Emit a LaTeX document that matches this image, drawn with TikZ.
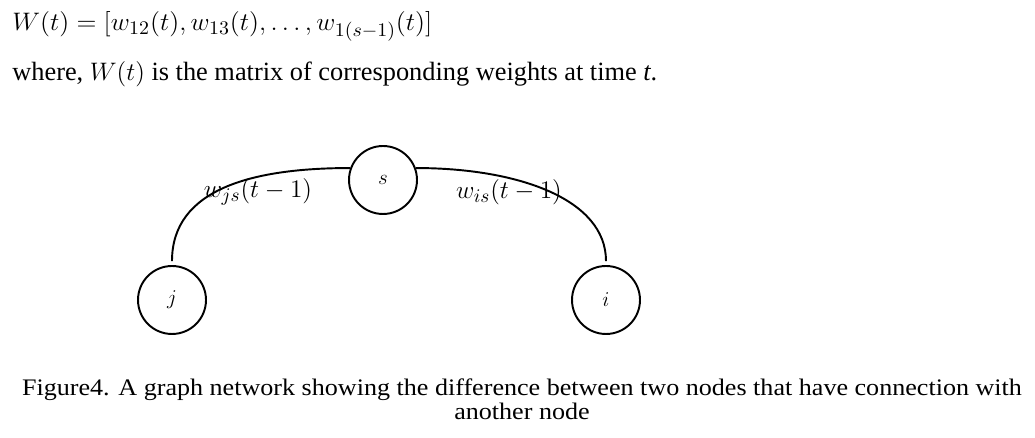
\documentclass[tikz,border=0pt]{standalone}
\usepackage{fontspec}
\setmainfont{Liberation Serif}
\usetikzlibrary{positioning,calc}

\begin{document}
\begin{tikzpicture}[
  x=0.02cm, y=-0.02cm,
  vert/.style={draw, circle, line width=1.1pt, minimum size=1.36cm, inner sep=0pt, font=\fontsize{13}{15}\selectfont},
  link/.style={line width=1.1pt},
  wlab/.style={font=\fontsize{15.5}{18}\selectfont, inner sep=0pt},
  txt/.style={anchor=base west, inner sep=0pt},
  captxt/.style={anchor=base, inner sep=0pt, font=\fontsize{13.5}{16}\selectfont}
]
\useasboundingbox (0,0) rectangle (1035,438);
% text above the figure
\node[txt, font=\fontsize{15.5}{18}\selectfont] (eq) at (12,31) {\resizebox{8.4cm}{\height}{$W(t) = [w_{12}(t), w_{13}(t), \ldots, w_{1(s-1)}(t)]$}};
\node[txt, font=\fontsize{15}{18}\selectfont] (where) at (12,80.7) {where, $W(t)$ is the matrix of corresponding weights at time \textit{t}.};
% nodes
\node[vert] (s) at (383,180) {$s$};
\node[vert] (j) at (172,300) {$j$};
\node[vert] (i) at (606,300) {$i$};
% arcs
\draw[link] ([yshift=0.08cm]j.north) .. controls +(0,-72) and +(-98,0) .. (s.160);
\draw[link] (s.20) .. controls +(102,0) and +(0,-62) .. ([yshift=0.08cm]i.north);
% weights
\node[wlab] (wjs) at (258,192) {$w_{js}(t-1)$};
\node[wlab] (wis) at (509,192) {$w_{is}(t-1)$};
% caption
\node[captxt] (cap1) at (522,395.7) {\resizebox{20cm}{\height}{Figure4. A graph network showing the difference between two nodes that have connection with}};
\node[captxt] (cap2) at (522,419.5) {\scalebox{1.1}[1]{another node}};
\end{tikzpicture}
\end{document}
